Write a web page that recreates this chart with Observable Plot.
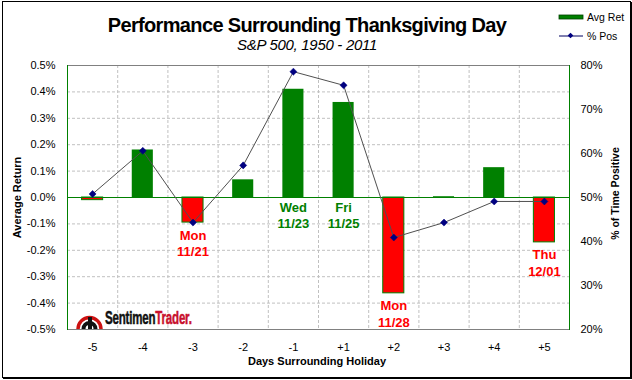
<!DOCTYPE html>
<html>
<head>
<meta charset="utf-8">
<script src="https://cdn.jsdelivr.net/npm/d3@7"></script>
<script src="https://cdn.jsdelivr.net/npm/@observablehq/plot@0.6"></script>
<style>
  html, body { margin: 0; padding: 0; background: #fff; }
  #wrap { position: relative; width: 632px; height: 380px; overflow: hidden; font-family: "Liberation Sans", Arial, sans-serif; }
  #chart { position: absolute; left: 0; top: 0; }
  .title { position: absolute; left: 0; width: 614px; text-align: center; white-space: nowrap; }
  #t1 { top: 15px; font-size: 20px; line-height: 20px; font-weight: bold; letter-spacing: -0.65px; }
  #t2 { top: 37px; font-size: 15px; line-height: 15px; font-style: italic; letter-spacing: -0.3px; }
  #border { position: absolute; left: 2px; top: 1px; width: 627px; height: 375px; border: 1px solid #000; box-shadow: 1px 1px 0 #000; pointer-events: none; }
  #legend { position: absolute; left: 558px; top: 8px; font-size: 10.5px; }
  .lrow { position: absolute; left: 0; height: 14px; width: 70px; }
  .lrow span { position: absolute; left: 29px; top: 0; line-height: 14px; white-space: nowrap; }
  #logo { position: absolute; left: 75px; top: 307px; height: 22px; width: 130px; overflow: hidden; }
  #logo svg { position: absolute; left: 0; top: 0; }
  #logo .txt { position: absolute; left: 30px; top: 1px; line-height: 20px; white-space: nowrap; font-family: "Liberation Sans", Arial, sans-serif; font-weight: bold; font-size: 18px; letter-spacing: -0.3px; transform: scaleX(0.64); transform-origin: 0 50%; -webkit-text-stroke: 0.5px currentColor; }
</style>
</head>
<body>
<div id="wrap">
  <div id="chart"></div>
  <div class="title" id="t1">Performance Surrounding Thanksgiving Day</div>
  <div class="title" id="t2">S&amp;P 500, 1950 - 2011</div>
  <div id="legend">
    <div class="lrow" style="top:2px">
      <svg width="28" height="14" style="position:absolute;left:0;top:0"><rect x="1" y="5" width="24" height="4" fill="#008000" stroke="#004000" stroke-width="0.8"/></svg>
      <span>Avg Ret</span>
    </div>
    <div class="lrow" style="top:21px">
      <svg width="28" height="14" style="position:absolute;left:0;top:0"><line x1="1" y1="7" x2="25" y2="7" stroke="#000060" stroke-width="1"/><rect x="10.5" y="4.5" width="4" height="4" fill="#000080" transform="rotate(45 12.5 6.5)"/></svg>
      <span>% Pos</span>
    </div>
  </div>
  <div id="logo">
    <svg width="29" height="22" viewBox="0 0 29 22">
      <path d="M3,22 A11.5,11.5 0 0 1 26,22" fill="none" stroke="#cc1111" stroke-width="3.5"/>
      <path d="M8.5,22 A6,6 0 0 1 20.5,22" fill="none" stroke="#111" stroke-width="4"/>
      <rect x="13" y="10" width="4" height="12" fill="#111"/>
    </svg>
    <span class="txt"><span style="color:#111">Sentimen</span><span style="color:#c8102e">Trader</span><span style="color:#c8102e">.</span></span>
  </div>
  <div id="border"></div>
</div>
<script>
// ---- data ----
const days = ["-5", "-4", "-3", "-2", "-1", "+1", "+2", "+3", "+4", "+5"];
const avgRet = [-0.01, 0.18, -0.095, 0.067, 0.41, 0.36, -0.363, 0.003, 0.113, -0.17];   // % average return
const pctPos = [50.8, 60.6, 44.3, 57.3, 78.6, 75.5, 40.9, 44.3, 49.1, 49.1];            // % of time positive
const dayNames = ["", "", "Mon", "", "Wed", "Fri", "Mon", "", "", "Thu"];
const dates = ["", "", "11/21", "", "11/23", "11/25", "11/28", "", "", "12/01"];
const leftTicks = [-0.5, -0.4, -0.3, -0.2, -0.1, 0, 0.1, 0.2, 0.3, 0.4, 0.5];
const rightTicks = [20, 30, 40, 50, 60, 70, 80];

// right axis [20,80] maps onto left axis [-0.5,0.5]
const posToY = p => (p - 50) / 60;
const yToPos = v => Math.round(v * 60 + 50);

const rows = days.map((d, i) => ({day: d, ret: avgRet[i], pos: pctPos[i], name: dayNames[i], date: dates[i]}));
const neg = rows.filter(r => r.ret < 0);
const pos = rows.filter(r => r.ret >= 0);
const annNeg = rows.filter(r => r.name && r.ret < 0);
const annPos = rows.filter(r => r.name && r.ret >= 0);

const W = 632, H = 380, mL = 67, mR = 63, mT = 65, mB = 51;
const step = (W - mL - mR) / days.length;
const GREEN = "#008000", RED = "#ff0000";

const plot = Plot.plot({
  width: W, height: H,
  marginLeft: mL, marginRight: mR, marginTop: mT, marginBottom: mB,
  style: {background: "#fff", fontSize: "11px", fontFamily: "'Liberation Sans', Arial, sans-serif", color: "#000", overflow: "visible"},
  x: {type: "band", domain: days, paddingInner: 0.58, paddingOuter: 0.29, round: false, axis: null},
  y: {domain: [-0.5, 0.5], axis: null},
  marks: [
    Plot.gridY(leftTicks.filter(v => Math.abs(v) < 0.5 && v !== 0), {stroke: "#c0c0c0", strokeOpacity: 1, strokeDasharray: "3,2"}),
    Plot.gridX(days.slice(1), {stroke: "#c0c0c0", strokeOpacity: 1, strokeDasharray: "3,2", dx: -step / 2}),
    Plot.barY(pos, {x: "day", y: "ret", fill: GREEN}),
    Plot.barY(neg, {x: "day", y: "ret", fill: RED, stroke: GREEN, strokeWidth: 1}),
    Plot.ruleY([0], {stroke: GREEN, strokeWidth: 1.2}),
    Plot.frame({stroke: "#808080"}),
    Plot.frame({anchor: "left", stroke: GREEN}),
    Plot.frame({anchor: "right", stroke: GREEN}),
    Plot.line(rows, {x: "day", y: d => posToY(d.pos), stroke: "#505050", strokeWidth: 1}),
    Plot.dot(rows, {x: "day", y: d => posToY(d.pos), symbol: "square", rotate: 45, r: 2.8, fill: "#000080", stroke: "#000080", strokeWidth: 0.5}),
    Plot.text(annNeg, {x: "day", y: "ret", text: d => d.name + "\n" + d.date, lineAnchor: "top", dy: 5.3, lineHeight: 1.27, fill: RED, fontWeight: "bold", fontSize: 13}),
    Plot.text(annPos, {x: "day", y: d => 0, text: d => d.name + "\n" + d.date, lineAnchor: "top", dy: 2.3, lineHeight: 1.27, fill: GREEN, fontWeight: "bold", fontSize: 13}),
    Plot.axisX({tickSize: 0, tickPadding: 14, label: null, fill: "#000"}),
    Plot.axisY(leftTicks, {anchor: "left", tickSize: 0, tickPadding: 12, label: null, tickFormat: v => (Math.abs(v) < 1e-9 ? 0 : v).toFixed(1) + "%", fill: "#000"}),
    Plot.axisY(rightTicks.map(posToY), {anchor: "right", tickSize: 0, tickPadding: 11, label: null, tickFormat: v => yToPos(v) + "%", fill: "#000"}),
    Plot.text(["Average Return"], {text: d => d, frameAnchor: "left", textAnchor: "middle", lineAnchor: "middle", rotate: -90, dx: -50, fontWeight: "bold", fontSize: 11, fill: "#000"}),
    Plot.text(["% of Time Positive"], {text: d => d, frameAnchor: "right", textAnchor: "middle", lineAnchor: "middle", rotate: -90, dx: 46, dy: -4, fontWeight: "bold", fontSize: 10.5, letterSpacing: "-0.4px", fill: "#000"}),
    Plot.text(["Days Surrounding Holiday"], {text: d => d, frameAnchor: "bottom", textAnchor: "middle", lineAnchor: "middle", dy: 32, dx: -1.5, fontWeight: "bold", fontSize: 11, fill: "#000"})
  ]
});
document.getElementById("chart").appendChild(plot);
</script>
</body>
</html>
